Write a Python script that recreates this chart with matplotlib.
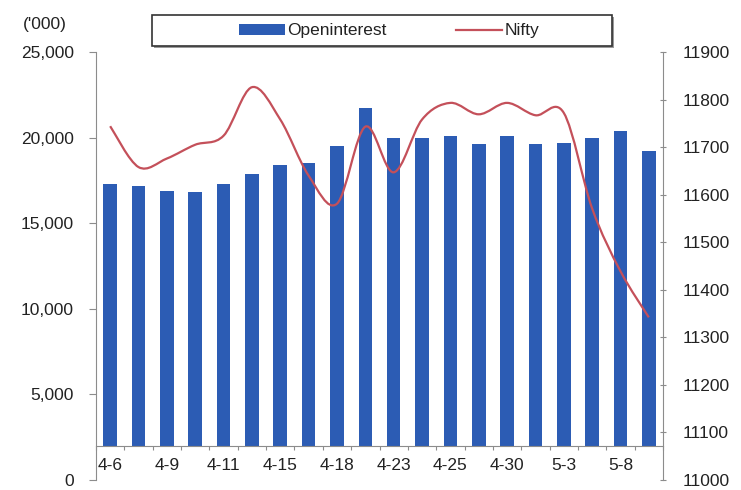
import numpy as np
import matplotlib
matplotlib.use("Agg")
import matplotlib.pyplot as plt
from matplotlib.path import Path
from matplotlib.patches import PathPatch, Rectangle, Patch
from matplotlib.lines import Line2D
from matplotlib.ticker import FixedLocator, FuncFormatter, NullFormatter

# data
dates = ["4-6", "4-8", "4-9", "4-10", "4-11", "4-12", "4-15", "4-16", "4-18", "4-22",
         "4-23", "4-24", "4-25", "4-26", "4-30", "5-2", "5-3", "5-7", "5-8", "5-9"]
open_interest = [17300, 17200, 16900, 16800, 17300, 17900, 18400, 18500, 19500, 21700,
                 20000, 20000, 20100, 19600, 20100, 19600, 19700, 20000, 20400, 19200]
nifty = [11744, 11658, 11676, 11705, 11724, 11826, 11758, 11640, 11581, 11743,
         11647, 11758, 11793, 11769, 11793, 11767, 11772, 11571, 11439, 11342]

BAR_COLOR = "#2c5cb4"
LINE_COLOR = "#c4505a"
AXIS_COLOR = "#8c8c8c"
TEXT_COLOR = "#222222"
CROSS = 2000  # category axis crosses the value axis here

plt.rcParams["font.family"] = ["Liberation Sans", "DejaVu Sans"]
FS = 12.5

W, H = 741, 490
fig = plt.figure(figsize=(W / 100, H / 100), dpi=100)
ax = fig.add_axes([96 / W, 1 - 480 / H, (663 - 96) / W, (480 - 52) / H])
ax2 = ax.twinx()

x = np.arange(len(dates))
oi = np.array(open_interest)
ax.bar(x, oi - CROSS, bottom=CROSS, width=0.48, color=BAR_COLOR, zorder=2)
ax.set_xlim(-0.5, len(dates) - 0.5)
ax.set_ylim(0, 25000)
ax.set_yticks(np.arange(0, 25001, 5000))
ax.yaxis.set_major_formatter(FuncFormatter(lambda v, p: f"{int(v):,}"))

# smoothed line like excel (bezier through the points)
y = np.array(nifty, dtype=float)
n = len(x)
verts = [(x[0], y[0])]
codes = [Path.MOVETO]
for i in range(n - 1):
    x0, y0 = x[max(i - 1, 0)], y[max(i - 1, 0)]
    x1, y1 = x[i], y[i]
    x2, y2 = x[i + 1], y[i + 1]
    x3, y3 = x[min(i + 2, n - 1)], y[min(i + 2, n - 1)]
    c1 = (x1 + (x2 - x0) / 6, y1 + (y2 - y0) / 6)
    c2 = (x2 - (x3 - x1) / 6, y2 - (y3 - y1) / 6)
    verts += [c1, c2, (x2, y2)]
    codes += [Path.CURVE4] * 3
ax2.add_patch(PathPatch(Path(verts, codes), fill=False, edgecolor=LINE_COLOR,
                        lw=1.6, zorder=3))
ax2.set_ylim(11000, 11900)
ax2.set_yticks(np.arange(11000, 11901, 100))

# spines
for s in ["top", "right"]:
    ax.spines[s].set_visible(False)
for s in ["top", "left", "bottom"]:
    ax2.spines[s].set_visible(False)
ax.spines["bottom"].set_position(("data", CROSS))
ax.spines["bottom"].set_color(AXIS_COLOR)
ax.spines["left"].set_color(AXIS_COLOR)
ax2.spines["right"].set_color(AXIS_COLOR)

# x ticks: marks at category edges, labels under every second bar
ax.xaxis.set_major_locator(FixedLocator(np.arange(-0.5, n, 1.0)))
ax.xaxis.set_major_formatter(NullFormatter())
ax.xaxis.set_minor_locator(FixedLocator(x[::2]))
ax.set_xticklabels(dates[::2], minor=True)
ax.tick_params(axis="x", which="major", length=3, direction="out", color=AXIS_COLOR)
ax.tick_params(axis="x", which="minor", length=0, pad=9, labelsize=FS, labelcolor=TEXT_COLOR)
ax.tick_params(axis="y", length=5, direction="out", color=AXIS_COLOR, pad=11,
               labelsize=FS, labelcolor=TEXT_COLOR)
ax2.tick_params(axis="y", length=4, direction="inout", color=AXIS_COLOR, pad=12,
                labelsize=FS, labelcolor=TEXT_COLOR)

fig.text(45 / W, 1 - 25 / H, "('000)", ha="center", va="center", fontsize=FS, color=TEXT_COLOR)

# legend box with a small shadow
lx0, ly0, lx1, ly1 = 152, 15, 612, 46
fig.patches.append(Rectangle(((lx0 + 2) / W, 1 - (ly1 + 2) / H), (lx1 - lx0) / W, (ly1 - ly0) / H,
                             transform=fig.transFigure, facecolor="#9a9a9a", edgecolor="none", zorder=3))
fig.patches.append(Rectangle((lx0 / W, 1 - ly1 / H), (lx1 - lx0) / W, (ly1 - ly0) / H,
                             transform=fig.transFigure, facecolor="white", edgecolor="#333333",
                             lw=1.2, zorder=4))
handles = [Patch(facecolor=BAR_COLOR, edgecolor="none"), Line2D([], [], color=LINE_COLOR, lw=1.6)]
leg = fig.legend(handles, ["Openinterest", "Nifty"], loc="center", ncol=2,
                 bbox_to_anchor=(389 / W, 1 - 31 / H), frameon=False, fontsize=FS,
                 handlelength=2.65, handleheight=0.55, handletextpad=0.15, columnspacing=4.0)
leg.set_zorder(5)
for t in leg.get_texts():
    t.set_color(TEXT_COLOR)

fig.savefig("out.png", dpi=100)
